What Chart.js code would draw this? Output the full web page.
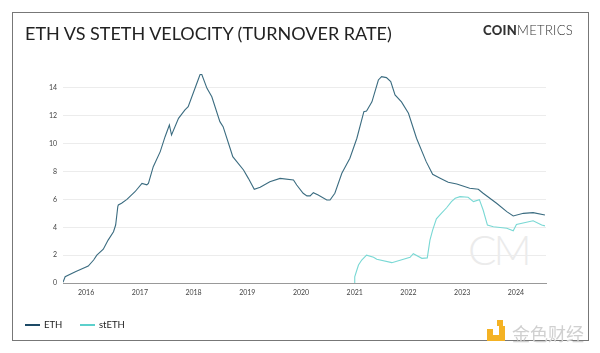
<!DOCTYPE html>
<html>
<head>
<meta charset="utf-8">
<script src="https://cdn.jsdelivr.net/npm/chart.js@4"></script>
<style>
  html, body { margin: 0; padding: 0; background: #fff; }
  body { width: 600px; height: 353px; position: relative; overflow: hidden; font-family: Lato, "Open Sans", sans-serif; }
  #frame { position: absolute; left: 12px; top: 12px; width: 577px; height: 329px; border: 1px solid #777; box-sizing: border-box; }
  #title { position: absolute; left: 25px; top: 22px; font-size: 18px; color: #222; white-space: nowrap; }
  #brand { position: absolute; left: 483px; top: 22px; font-size: 13px; color: #333; letter-spacing: 0.3px; }
  #brand b { font-weight: 900; }
  #brand span { font-weight: 300; }
  #cm { position: absolute; left: 468px; top: 224px; font-size: 42px; font-weight: 300; color: #ebebeb; letter-spacing: -3px; }
  #chartBox { position: absolute; left: 0; top: 0; width: 600px; height: 353px; }
  .legend { position: absolute; top: 319px; font-size: 9.5px; color: #222; }
  .legend i { display: inline-block; width: 15px; height: 2px; vertical-align: middle; margin-right: 4px; margin-top: -2px; }
  #jinse { position: absolute; left: 487px; top: 320px; }
  #jinse .sq { position: absolute; background: #f4b223; }
  #jinse .txt { position: absolute; left: 25px; top: 0px; font-size: 18px; color: #d0d0d0; font-family: "Noto Sans CJK SC", sans-serif; white-space: nowrap; }
</style>
</head>
<body>
<div id="frame"></div>
<div id="cm">CM</div>
<div id="chartBox"><canvas id="velocityChart" width="600" height="353"></canvas></div>
<div id="title">ETH VS STETH VELOCITY (TURNOVER RATE)</div>
<div id="brand"><b>COIN</b><span>METRICS</span></div>
<div class="legend" style="left:25px"><i style="background:#1d4a66"></i>ETH</div>
<div class="legend" style="left:80px"><i style="background:#5cd0cc"></i>stETH</div>
<div id="jinse">
  <div class="sq" style="left:10px;top:0;width:6px;height:6px"></div>
  <div class="sq" style="left:0;top:9px;width:6px;height:6px"></div>
  <div class="sq" style="left:0;top:15px;width:18px;height:6px"></div>
  <div class="sq" style="left:12px;top:6px;width:6px;height:12px"></div>
  <div class="txt">金色财经</div>
</div>
<script>
// ETH vs stETH velocity, x in decimal years
const ethYears = [2015.57, 2015.61, 2015.80, 2016.04, 2016.14, 2016.20, 2016.32, 2016.41, 2016.51, 2016.55,
  2016.59, 2016.60, 2016.66, 2016.76, 2016.91, 2017.04, 2017.13, 2017.16, 2017.25, 2017.38,
  2017.47, 2017.55, 2017.59, 2017.72, 2017.84, 2017.90, 2018.12, 2018.15, 2018.25, 2018.34,
  2018.49, 2018.55, 2018.68, 2018.73, 2018.93, 2019.02, 2019.13, 2019.24, 2019.42, 2019.61,
  2019.86, 2019.92, 2020.04, 2020.11, 2020.17, 2020.23, 2020.32, 2020.48, 2020.54, 2020.63,
  2020.76, 2020.91, 2021.04, 2021.17, 2021.22, 2021.32, 2021.44, 2021.50, 2021.59, 2021.67,
  2021.75, 2021.87, 2022.00, 2022.15, 2022.33, 2022.45, 2022.59, 2022.74, 2022.90, 2023.14,
  2023.30, 2023.39, 2023.64, 2023.83, 2023.95, 2024.14, 2024.32, 2024.54];
const ethValues = [0.05, 0.45, 0.81, 1.22, 1.65, 2.0, 2.42, 3.08, 3.68, 4.16,
  5.48, 5.6, 5.72, 6.0, 6.55, 7.15, 7.05, 7.15, 8.35, 9.43,
  10.5, 11.34, 10.62, 11.82, 12.42, 12.66, 14.95, 15.0, 13.97, 13.37,
  11.58, 11.22, 9.67, 9.07, 8.11, 7.51, 6.72, 6.87, 7.27, 7.51,
  7.39, 7.03, 6.44, 6.25, 6.25, 6.48, 6.32, 5.96, 5.96, 6.44,
  7.88, 8.95, 10.39, 12.3, 12.35, 13.0, 14.57, 14.81, 14.74, 14.45,
  13.5, 13.0, 12.18, 10.39, 8.71, 7.8, 7.52, 7.23, 7.1, 6.8,
  6.73, 6.44, 5.72, 5.12, 4.81, 5.0, 5.05, 4.88];

const stethYears = [2020.99, 2021.00, 2021.04, 2021.07, 2021.13, 2021.22, 2021.35, 2021.41, 2021.69, 2022.03,
  2022.09, 2022.25, 2022.35, 2022.40, 2022.45, 2022.52, 2022.59, 2022.71, 2022.80, 2022.87,
  2022.96, 2023.11, 2023.21, 2023.32, 2023.39, 2023.47, 2023.58, 2023.83, 2023.95, 2024.01,
  2024.32, 2024.48, 2024.54];
const stethValues = [0, 0.45, 0.93, 1.29, 1.65, 2.0, 1.85, 1.7, 1.46, 1.84,
  2.1, 1.77, 1.8, 3.08, 3.8, 4.6, 4.9, 5.4, 5.84, 6.08,
  6.2, 6.15, 5.84, 5.98, 5.24, 4.16, 4.04, 3.93, 3.75, 4.2,
  4.47, 4.16, 4.1];

const xTicks = [2016, 2017, 2018, 2019, 2020, 2021, 2022, 2023, 2024];
const yTicks = [0, 2, 4, 6, 8, 10, 12, 14];

function toPoints(xs, ys) {
  return xs.map((x, i) => ({ x: x, y: ys[i] }));
}

const ctx = document.getElementById('velocityChart').getContext('2d');
new Chart(ctx, {
  type: 'line',
  data: {
    datasets: [{
      label: 'ETH',
      data: toPoints(ethYears, ethValues),
      borderColor: '#3b6c80',
      borderWidth: 1.1,
      pointRadius: 0,
      tension: 0
    }, {
      label: 'stETH',
      data: toPoints(stethYears, stethValues),
      borderColor: '#79d8d4',
      borderWidth: 1.1,
      pointRadius: 0,
      tension: 0
    }]
  },
  options: {
    responsive: false,
    animation: false,
    layout: { padding: { left: 0, top: 74, right: 54, bottom: 50 } },
    plugins: { legend: { display: false }, tooltip: { enabled: false } },
    scales: {
      x: {
        type: 'linear',
        min: 2015.57,
        max: 2024.56,
        afterBuildTicks: axis => { axis.ticks = xTicks.map(v => ({ value: v })); },
        afterFit: scale => { scale.height = 20; },
        grid: { display: false, drawTicks: false },
        border: { color: '#999', width: 1 },
        ticks: { padding: 6, color: '#444', font: { family: 'Lato', size: 7 }, callback: v => String(v) }
      },
      y: {
        min: 0,
        max: 15,
        afterBuildTicks: axis => { axis.ticks = yTicks.map(v => ({ value: v })); },
        afterFit: scale => { scale.width = 63; },
        grid: { color: '#ececec', drawTicks: false },
        border: { display: false },
        ticks: { padding: 6, color: '#444', font: { family: 'Lato', size: 7 } }
      }
    }
  }
});
</script>
</body>
</html>
